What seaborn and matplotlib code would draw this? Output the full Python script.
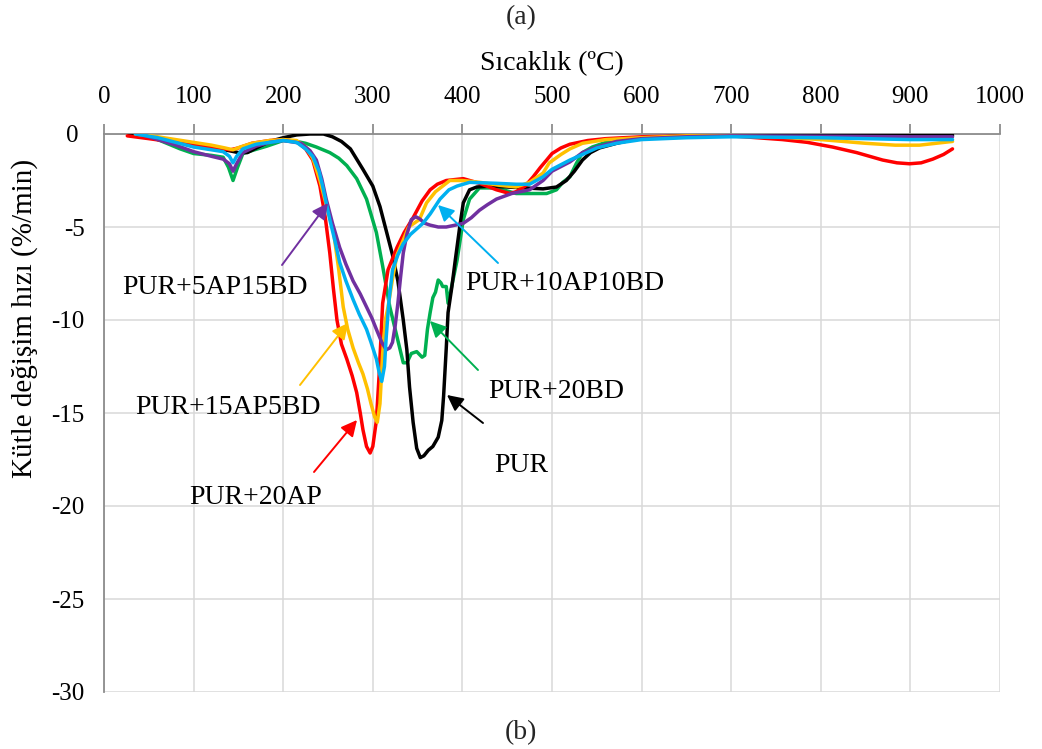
import matplotlib
matplotlib.use("Agg")
import matplotlib.pyplot as plt
import pandas as pd
import seaborn as sns

# DTG curves: mass loss rate (%/min) versus temperature (°C)
series_names = ["PUR+20BD", "PUR", "PUR+20AP", "PUR+15AP5BD", "PUR+5AP15BD", "PUR+10AP10BD"]
series_colors = ["#00B050", "#000000", "#FF0000", "#FFC000", "#7030A0", "#00B0F0"]

x_ticks = list(range(0, 1001, 100))
y_ticks = [-30, -25, -20, -15, -10, -5, 0]
y_tick_labels = ["-30", "-25", "-20", "-15", "-10", "-5", "0 "]

pur_T = [28, 50, 80, 100, 120, 140, 150, 160, 170, 185, 200, 215, 230, 245, 255, 265, 275, 289,
         300, 308, 315, 322, 328, 334, 338, 341, 345, 349, 353, 357, 362, 367, 373, 377, 379,
         382, 384, 388, 392, 397, 401, 408, 416, 430, 450, 470, 490, 505, 516, 525, 534, 543,
         553, 572, 601, 650, 700, 800, 900, 947]
pur_rate = [-0.05, -0.15, -0.35, -0.5, -0.7, -0.9, -1.0, -1.0, -0.75, -0.4, -0.2, -0.05, 0.0,
            0.0, -0.15, -0.4, -0.8, -1.9, -2.8, -3.9, -5.2, -6.5, -7.9, -10.0, -11.6, -13.6,
            -15.5, -16.9, -17.4, -17.3, -17.0, -16.8, -16.3, -15.4, -14.1, -11.5, -9.6, -8.3,
            -6.8, -5.0, -3.7, -3.0, -2.85, -2.8, -2.85, -2.9, -2.95, -2.85, -2.5, -2.0, -1.4,
            -1.0, -0.75, -0.5, -0.2, -0.1, -0.05, -0.05, -0.05, -0.05]

ap20_T = [26, 50, 80, 107, 125, 141, 150, 165, 185, 200, 215, 225, 233, 241, 247, 252, 256, 260,
          265, 271, 277, 282, 286, 289, 293, 297, 300, 304, 307, 311, 317, 322, 327, 335, 345,
          355, 364, 372, 382, 401, 419, 438, 453, 460, 470, 479, 487, 494, 500, 510, 520, 540,
          560, 600, 650, 700, 757, 785, 813, 840, 869, 885, 899, 912, 925, 937, 947]
ap20_rate = [-0.1, -0.25, -0.45, -0.6, -0.75, -0.85, -0.75, -0.5, -0.35, -0.3, -0.4, -0.8, -1.4,
             -2.8, -4.5, -6.4, -8.3, -10.0, -11.3, -12.1, -13.0, -13.9, -15.0, -15.9, -16.8,
             -17.15, -16.8, -15.4, -13.0, -9.1, -7.3, -6.7, -6.1, -5.3, -4.5, -3.6, -3.0, -2.7,
             -2.5, -2.4, -2.65, -3.0, -3.2, -3.1, -2.8, -2.3, -1.8, -1.4, -1.05, -0.75, -0.55,
             -0.35, -0.25, -0.15, -0.1, -0.1, -0.3, -0.45, -0.7, -1.0, -1.4, -1.55, -1.6, -1.55,
             -1.35, -1.1, -0.8]

ap15_T = [35, 60, 80, 100, 120, 135, 144, 152, 165, 185, 200, 215, 225, 233, 241, 248, 256, 262,
          267, 272, 278, 284, 289, 294, 298, 302, 305, 308, 311, 314, 317, 322, 327, 334, 340,
          352, 360, 370, 386, 400, 420, 440, 460, 475, 490, 497, 510, 520, 534, 560, 600, 650,
          700, 750, 800, 850, 883, 910, 947]
ap15_rate = [0.0, -0.15, -0.3, -0.45, -0.6, -0.75, -0.85, -0.7, -0.5, -0.35, -0.3, -0.35, -0.7,
             -1.3, -2.5, -3.8, -5.2, -7.3, -9.3, -10.5, -11.5, -12.3, -12.9, -13.7, -14.5,
             -15.2, -15.5, -14.5, -11.8, -10.0, -9.3, -7.8, -6.5, -5.7, -5.0, -4.6, -3.7, -3.1,
             -2.5, -2.5, -2.6, -2.75, -2.85, -2.6, -2.1, -1.55, -1.1, -0.8, -0.5, -0.3, -0.2,
             -0.1, -0.1, -0.15, -0.3, -0.5, -0.6, -0.6, -0.4]

ap10_T = [35, 60, 80, 100, 120, 133, 140, 144, 148, 155, 170, 185, 200, 215, 225, 233, 240, 244,
          252, 258, 263, 270, 278, 285, 293, 298, 304, 307, 310, 313, 315, 318, 322, 328, 334,
          342, 349, 356, 364, 375, 385, 394, 408, 438, 460, 475, 490, 500, 512, 520, 534, 550,
          572, 600, 650, 700, 800, 900, 947]
ap10_rate = [0.0, -0.2, -0.45, -0.7, -0.85, -0.95, -1.2, -1.55, -1.2, -0.8, -0.55, -0.45, -0.35,
             -0.45, -0.8, -1.2, -2.0, -2.8, -4.6, -5.8, -6.9, -7.9, -8.9, -9.7, -10.5, -11.2,
             -12.1, -12.8, -13.3, -12.5, -10.9, -9.0, -7.3, -6.5, -5.9, -5.4, -5.1, -4.8, -4.3,
             -3.5, -3.0, -2.8, -2.6, -2.65, -2.7, -2.7, -2.3, -1.9, -1.6, -1.4, -1.1, -0.75,
             -0.5, -0.3, -0.2, -0.15, -0.2, -0.3, -0.3]

ap5_T = [40, 60, 80, 100, 120, 133, 140, 144, 148, 155, 170, 185, 200, 220, 230, 237, 243, 248,
         255, 263, 270, 278, 286, 293, 299, 304, 310, 315, 319, 322, 325, 328, 331, 334, 338,
         343, 348, 352, 358, 364, 373, 382, 392, 401, 410, 419, 428, 438, 455, 475, 490, 500,
         512, 520, 534, 550, 572, 600, 650, 700, 800, 900, 947]
ap5_rate = [0.0, -0.3, -0.6, -0.95, -1.2, -1.35, -1.6, -2.0, -1.6, -1.0, -0.65, -0.45, -0.35,
            -0.5, -0.9, -1.4, -2.4, -3.5, -4.8, -6.1, -7.0, -7.9, -8.6, -9.3, -9.9, -10.5,
            -11.2, -11.6, -11.5, -11.2, -10.3, -9.1, -7.7, -6.4, -5.4, -4.6, -4.45, -4.55, -4.8,
            -4.9, -5.0, -5.0, -4.9, -4.8, -4.5, -4.1, -3.8, -3.5, -3.2, -3.0, -2.5, -2.0, -1.7,
            -1.5, -1.0, -0.7, -0.4, -0.25, -0.15, -0.1, -0.12, -0.15, -0.15]

bd20_T = [40, 60, 70, 85, 100, 120, 133, 139, 144, 149, 155, 168, 182, 200, 215, 225, 237, 252,
          262, 271, 282, 293, 304, 311, 319, 327, 334, 338, 343, 349, 355, 358, 361, 364, 367,
          370, 373, 376, 378, 382, 384, 388, 394, 401, 408, 419, 438, 460, 480, 494, 505, 512,
          520, 527, 534, 545, 560, 580, 600, 650, 700, 800, 900, 947]
bd20_rate = [0.0, -0.3, -0.5, -0.8, -1.05, -1.15, -1.25, -1.8, -2.5, -1.8, -1.05, -0.85, -0.65,
             -0.35, -0.4, -0.5, -0.7, -1.0, -1.3, -1.7, -2.4, -3.5, -5.3, -7.1, -9.3, -10.9,
             -12.3, -12.3, -11.8, -11.7, -12.0, -11.9, -10.5, -9.6, -8.8, -8.5, -7.85, -8.0,
             -8.2, -8.2, -9.1, -8.2, -6.8, -4.6, -3.5, -2.9, -2.9, -3.2, -3.2, -3.2, -3.0, -2.6,
             -2.3, -1.6, -1.0, -0.7, -0.45, -0.3, -0.2, -0.1, -0.05, -0.05, -0.05, -0.1]

series_data = {
    "PUR": (pur_T, pur_rate),
    "PUR+20AP": (ap20_T, ap20_rate),
    "PUR+15AP5BD": (ap15_T, ap15_rate),
    "PUR+10AP10BD": (ap10_T, ap10_rate),
    "PUR+5AP15BD": (ap5_T, ap5_rate),
    "PUR+20BD": (bd20_T, bd20_rate),
}

df = pd.concat(
    [pd.DataFrame({"Sıcaklık": t, "Hız": r, "Numune": name})
     for name, (t, r) in series_data.items()],
    ignore_index=True,
)

sns.set_theme(style="white")
plt.rcParams["font.family"] = ["Liberation Serif", "DejaVu Serif"]
plt.rcParams["axes.unicode_minus"] = False

fig = plt.figure(figsize=(10.42, 7.49), dpi=100)
W, H = 1042, 749
ax = fig.add_axes([104 / W, 1 - 692 / H, (1000 - 104) / W, (692 - 134) / H])

sns.lineplot(data=df, x="Sıcaklık", y="Hız", hue="Numune", hue_order=series_names,
             palette=dict(zip(series_names, series_colors)), estimator=None, sort=False,
             linewidth=2.5, legend=False, ax=ax, zorder=3)

ax.set_xlim(0, 1000)
ax.set_ylim(-30, 0)
ax.set_xticks(x_ticks)
ax.set_yticks(y_ticks)
ax.set_yticklabels(y_tick_labels)
ax.xaxis.tick_top()
ax.xaxis.set_label_position("top")

axis_gray = "#8C8C8C"
for side in ("bottom", "right"):
    ax.spines[side].set_visible(False)
for side in ("top", "left"):
    ax.spines[side].set_color(axis_gray)
    ax.spines[side].set_linewidth(1.3)
    ax.spines[side].set_zorder(2.5)

ax.grid(True, color="#D9D9D9", linewidth=1.1)
ax.set_axisbelow(True)
ax.tick_params(axis="x", direction="out", length=7, width=1.3, color=axis_gray,
               pad=11.5, labelsize=18, labelcolor="black")
ax.tick_params(axis="y", direction="out", length=6, width=1.3, color=axis_gray,
               pad=8, labelsize=18, labelcolor="black")

ax.set_xlabel("Sıcaklık (ºC)", fontsize=20, color="black")
ax.xaxis.set_label_coords(0.5, 1 + (134 - 64) / 558)
ax.xaxis.label.set_va("center")
ax.set_ylabel("Kütle değişim hızı (%/min)", fontsize=21, color="black")
ax.yaxis.set_label_coords((25 - 104) / 896, (692 - 318) / 558)
ax.yaxis.label.set_va("center")

fig.text(521 / W, 1 - 18 / H, "(a)", ha="center", va="center", fontsize=20)
fig.text(521 / W, 1 - 733 / H, "(b)", ha="center", va="center", fontsize=20)


def px(x, y):
    """Convert figure pixel position to data coordinates of the axes."""
    return (x - 104) / 0.896, -(y - 134) / 18.6


# Curve labels with pointer arrows
labels = [
    ("PUR+5AP15BD", "#7030A0", (215, 288), (282, 265), (328, 203)),
    ("PUR+15AP5BD", "#FFC000", (228, 408), (300, 385), (348, 323)),
    ("PUR+20AP", "#FF0000", (256, 498), (314, 472), (357, 420)),
    ("PUR+10AP10BD", "#00B0F0", (565, 283), (498, 263), (438, 205)),
    ("PUR+20BD", "#00B050", (556, 392), (478, 370), (430, 321)),
    ("PUR", "#000000", (521, 466), (483, 423), (447, 395)),
]
for text, color, text_pos, tail, tip in labels:
    ax.text(*px(*text_pos), text, ha="center", va="center", fontsize=20,
            color="black", zorder=5)
    ax.annotate("", xy=px(*tip), xytext=px(*tail),
                arrowprops=dict(arrowstyle="-|>", color=color, lw=1.4,
                                mutation_scale=24, shrinkA=0, shrinkB=0),
                zorder=5)

fig.savefig("out.png", dpi=100)
